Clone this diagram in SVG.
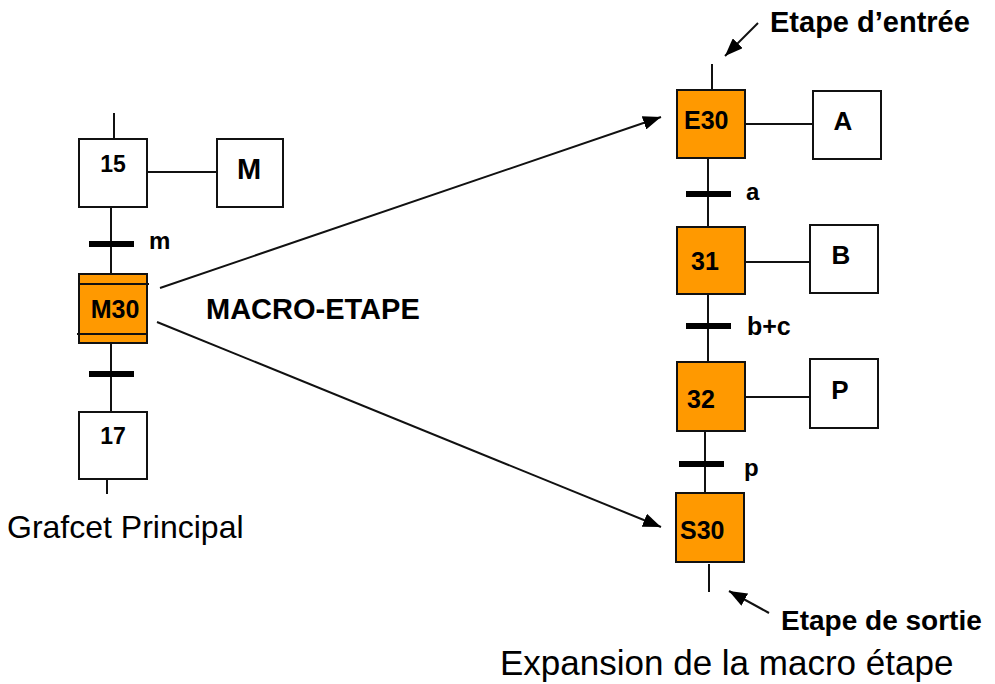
<svg xmlns="http://www.w3.org/2000/svg" width="995" height="684" viewBox="0 0 995 684">
<defs>
<style>
.box{fill:#fff;stroke:#111;stroke-width:2}
.step{fill:#FF9900;stroke:#111;stroke-width:2}
.ln{stroke:#111;stroke-width:2;fill:none}
.bar{stroke:#000;stroke-width:6}
.b{font-family:"Liberation Sans",Arial,sans-serif;font-weight:bold;fill:#000}
.r{font-family:"Liberation Sans",Arial,sans-serif;fill:#000}
</style>
<marker id="ahb" viewBox="0 0 18 14" refX="18" refY="7" markerWidth="18" markerHeight="14" orient="auto" markerUnits="userSpaceOnUse">
<path d="M0,0 L18,7 L0,14 Z" fill="#000"/>
</marker>
</defs>
<rect width="995" height="684" fill="#fff"/>

<g id="connectors">
<line class="ln" x1="114" y1="113" x2="114" y2="139"/>
<line class="ln" x1="147" y1="172" x2="217" y2="172"/>
<line class="ln" x1="111" y1="207" x2="111" y2="274"/>
<line class="bar" x1="89" y1="244" x2="134" y2="244"/>
<line class="ln" x1="111" y1="343" x2="111" y2="412"/>
<line class="bar" x1="89" y1="374" x2="134" y2="374"/>
<line class="ln" x1="107" y1="479" x2="107" y2="494"/>
<line class="ln" x1="160" y1="288" x2="661" y2="117" marker-end="url(#ahb)"/>
<line class="ln" x1="157" y1="322" x2="661" y2="527" marker-end="url(#ahb)"/>
<line class="ln" x1="712" y1="64" x2="712" y2="90"/>
<line class="ln" x1="745" y1="124" x2="813" y2="124"/>
<line class="ln" x1="708" y1="158" x2="708" y2="227"/>
<line class="bar" x1="686" y1="194" x2="731" y2="194"/>
<line class="ln" x1="743" y1="262" x2="810" y2="262"/>
<line class="ln" x1="708" y1="294" x2="708" y2="362"/>
<line class="bar" x1="686" y1="326" x2="731" y2="326"/>
<line class="ln" x1="743" y1="397" x2="810" y2="397"/>
<line class="ln" x1="705" y1="431" x2="705" y2="492"/>
<line class="bar" x1="679" y1="464" x2="724" y2="464"/>
<line class="ln" x1="709" y1="564" x2="709" y2="592"/>
<line class="ln" x1="758" y1="23" x2="725" y2="56" marker-end="url(#ahb)"/>
<line class="ln" x1="769" y1="613" x2="729" y2="591" marker-end="url(#ahb)"/>
</g>

<g id="step15">
<rect class="box" x="79" y="139" width="68" height="68"/>
<text class="b" x="113" y="172" font-size="23" text-anchor="middle">15</text>
</g>
<g id="actionM">
<rect class="box" x="217" y="139" width="66" height="68"/>
<text class="b" x="249" y="179" font-size="29" text-anchor="middle">M</text>
</g>
<g id="labelm">
<text class="b" x="149" y="249" font-size="24">m</text>
</g>
<g id="stepM30">
<rect class="step" x="79" y="274" width="68" height="69"/>
<line class="ln" x1="79" y1="284" x2="149" y2="284"/>
<line class="ln" x1="77" y1="334" x2="147" y2="334"/>
<text class="b" x="115" y="318" font-size="25" text-anchor="middle">M30</text>
</g>
<g id="macroLabel">
<text class="b" x="206" y="319" font-size="29">MACRO-ETAPE</text>
</g>
<g id="step17">
<rect class="box" x="79" y="412" width="68" height="67"/>
<text class="b" x="113" y="444" font-size="23" text-anchor="middle">17</text>
</g>
<g id="titleLeft">
<text class="r" x="7" y="538" font-size="32">Grafcet Principal</text>
</g>

<g id="entryLabel">
<text class="b" x="770" y="32" font-size="29">Etape d’entrée</text>
</g>
<g id="stepE30">
<rect class="step" x="677" y="90" width="68" height="68"/>
<text class="b" x="684" y="129" font-size="25">E30</text>
</g>
<g id="actionA">
<rect class="box" x="813" y="91" width="68" height="68"/>
<text class="b" x="843" y="130" font-size="26" text-anchor="middle">A</text>
</g>
<g id="labela">
<text class="b" x="746" y="200" font-size="24">a</text>
</g>
<g id="step31">
<rect class="step" x="677" y="227" width="68" height="67"/>
<text class="b" x="691" y="270" font-size="25">31</text>
</g>
<g id="actionB">
<rect class="box" x="810" y="225" width="68" height="68"/>
<text class="b" x="841" y="264" font-size="26" text-anchor="middle">B</text>
</g>
<g id="labelbc">
<text class="b" x="747" y="335" font-size="25">b+c</text>
</g>
<g id="step32">
<rect class="step" x="677" y="362" width="68" height="69"/>
<text class="b" x="687" y="408" font-size="25">32</text>
</g>
<g id="actionP">
<rect class="box" x="810" y="359" width="68" height="69"/>
<text class="b" x="840" y="399" font-size="26" text-anchor="middle">P</text>
</g>
<g id="labelp">
<text class="b" x="744" y="476" font-size="24">p</text>
</g>
<g id="stepS30">
<rect class="step" x="676" y="493" width="68" height="69"/>
<text class="b" x="680" y="539" font-size="25">S30</text>
</g>
<g id="exitLabel">
<text class="b" x="781" y="630" font-size="28">Etape de sortie</text>
</g>
<g id="titleRight">
<text class="r" x="500" y="675" font-size="35">Expansion de la macro étape</text>
</g>
</svg>
